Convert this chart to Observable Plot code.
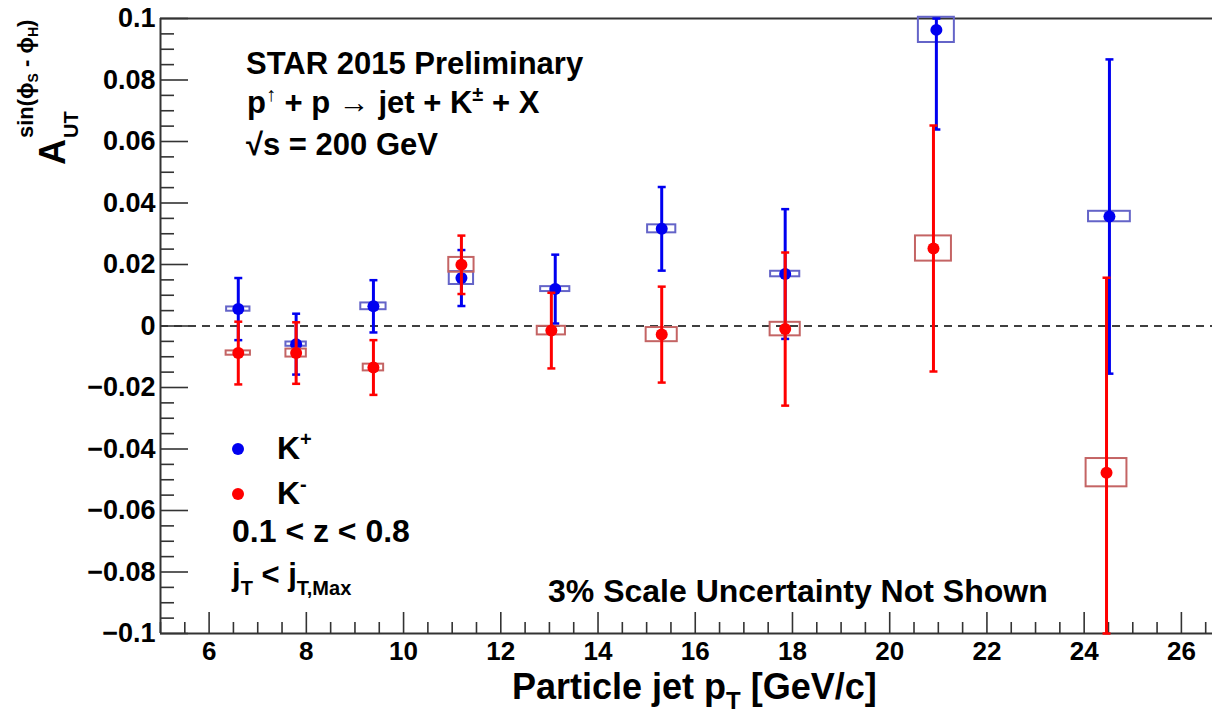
<!DOCTYPE html>
<html><head><meta charset="utf-8">
<script src="https://cdn.jsdelivr.net/npm/d3@7"></script>
<script src="https://cdn.jsdelivr.net/npm/@observablehq/plot@0.6"></script>
<style>body{margin:0;background:#fff} #chart svg{display:block}</style>
</head><body><div id="chart"></div><script>
// ---------- data ----------
const ptKp   = [6.60, 7.79, 9.38, 11.19, 13.12, 15.31, 17.85, 20.96, 24.52];
const aKp    = [0.0055, -0.0059, 0.0064, 0.0156, 0.0120, 0.0316, 0.0169, 0.0963, 0.0356];
const statKp = [0.0101, 0.0099, 0.0085, 0.0091, 0.0112, 0.0136, 0.0211, 0.0324, 0.0511];
const sysAKp = [0.0007, 0.0007, 0.0011, 0.0021, 0.0008, 0.0013, 0.0009, 0.0041, 0.0017];
const sysPtKp= [0.24, 0.21, 0.26, 0.25, 0.30, 0.29, 0.30, 0.37, 0.43];

const ptKm   = [6.60, 7.79, 9.38, 11.19, 13.04, 15.31, 17.85, 20.90, 24.46];
const aKm    = [-0.0088, -0.0088, -0.0135, 0.0199, -0.0015, -0.0028, -0.0010, 0.0252, -0.0477];
const statKm = [0.0102, 0.0100, 0.0089, 0.0095, 0.0123, 0.0156, 0.0249, 0.0400, 0.0634];
const sysAKm = [0.0007, 0.0013, 0.0011, 0.0024, 0.0014, 0.0023, 0.0022, 0.0041, 0.0046];
const sysPtKm= [0.25, 0.21, 0.21, 0.26, 0.29, 0.32, 0.31, 0.37, 0.42];

const xTicks = [6, 8, 10, 12, 14, 16, 18, 20, 22, 24, 26];
const yTicks = [-0.1, -0.08, -0.06, -0.04, -0.02, 0, 0.02, 0.04, 0.06, 0.08, 0.1];

// ---------- build ----------
const FONT = "'Liberation Sans', Arial, Helvetica, sans-serif";
const build = (pt, a, st, sa, sp) => pt.map((x, i) => ({x, a: a[i], e: st[i], sy: sa[i], sx: sp[i]}));
const kp = build(ptKp, aKp, statKp, sysAKp, sysPtKp);
const km = build(ptKm, aKm, statKm, sysAKm, sysPtKm);
const X0 = 5, X1 = 26.64, Y0 = -0.1, Y1 = 0.1;
const lo = d => Math.max(Y0, d.a - d.e), hi = d => Math.min(Y1, d.a + d.e);
const xMinor = d3.range(5, 26.7, 0.5).filter(v => v % 2 !== 0);
const yMinor = d3.range(-20, 21).map(v => v * 0.005).filter(v => Math.abs(Math.round(v * 1000)) % 20 !== 0);

const W = 1212, H = 716, ML = 160, MR = 0, MT = 18, MB = 83;
const PW = W - ML - MR, PH = H - MT - MB;
const cap = {draw(ctx) { ctx.moveTo(-4, 0); ctx.lineTo(4, 0); }};

const BLUE = "#0000f0", RED = "#ff0000", BLUEBOX = "#6464c8", REDBOX = "#c46464";
const AX = "#333";

function series(data, col, boxCol) {
  return [
    Plot.rect(data, {x1: d => d.x - d.sx, x2: d => d.x + d.sx, y1: d => d.a - d.sy, y2: d => d.a + d.sy,
      fill: "none", stroke: boxCol, strokeWidth: 2}),
    Plot.ruleX(data, {x: "x", y1: lo, y2: hi, stroke: col, strokeWidth: 3}),
    Plot.dot(data, {x: "x", y: lo, symbol: cap, stroke: col, strokeWidth: 2.5, fill: "none"}),
    Plot.dot(data, {x: "x", y: hi, symbol: cap, stroke: col, strokeWidth: 2.5, fill: "none"}),
    Plot.dot(data, {x: "x", y: "a", r: 6, fill: col, stroke: "none"})
  ];
}

const fmtY = d => d === 0 ? "0" : (d < 0 ? "\u2212" : "") + String(+Math.abs(d).toFixed(2));

const svg = Plot.plot({
  width: W, height: H, marginLeft: ML, marginRight: MR, marginTop: MT, marginBottom: MB,
  style: {fontFamily: FONT, background: "white", color: "#000"},
  x: {domain: [X0, X1]},
  y: {domain: [Y0, Y1]},
  marks: [
    Plot.ruleY([0], {stroke: "#000", strokeWidth: 1.6, strokeDasharray: "8,6"}),
    Plot.tickX(xMinor, {x: d => d, stroke: AX, strokeWidth: 1.6, insetTop: PH - 11}),
    Plot.tickX(xTicks, {x: d => d, stroke: AX, strokeWidth: 1.6, insetTop: PH - 21}),
    Plot.tickY(yMinor, {y: d => d, stroke: AX, strokeWidth: 1.6, insetRight: PW - 14}),
    Plot.tickY(yTicks, {y: d => d, stroke: AX, strokeWidth: 1.6, insetRight: PW - 28}),
    Plot.ruleY([Y1], {stroke: AX, strokeWidth: 2}),
    Plot.ruleY([Y0], {stroke: AX, strokeWidth: 2}),
    Plot.ruleX([X0], {stroke: AX, strokeWidth: 2}),
    Plot.axisX({ticks: xTicks, tickSize: 0, tickPadding: 8, fontSize: 26, fontWeight: "bold", label: null, tickFormat: d => String(d)}),
    Plot.axisY({ticks: yTicks, tickSize: 0, tickPadding: 5, fontSize: 27, fontWeight: "bold", label: null, tickFormat: fmtY}),
    ...series(kp, BLUE, BLUEBOX),
    ...series(km, RED, REDBOX)
  ]
});

// ---------- annotations ----------
const s = d3.select(svg);
const g = s.append("g").attr("font-family", FONT).attr("font-weight", "bold").attr("fill", "#000").attr("text-anchor", "start");
function rich(x, y, size, parts, parent = g) {
  const t = parent.append("text").attr("x", x).attr("y", y).attr("font-size", size).attr("text-anchor", "start");
  parts.forEach(p => {
    if (typeof p === "string") { t.append("tspan").text(p); }
    else { const ts = t.append("tspan").text(p.t); if (p.dy) ts.attr("dy", p.dy); if (p.size) ts.attr("font-size", p.size); if (p.w) ts.attr("font-weight", p.w); }
  });
  return t;
}
rich(246, 74, 31, ["STAR 2015 Preliminary"]);
rich(247, 113, 31, ["p", {t: "\u2191", dy: -12, size: 20, w: "normal"}, {t: " + p ", dy: 12}, {t: "\u2192", w: "normal"}, " jet + K", {t: "\u00b1", dy: -12, size: 20}, {t: " + X", dy: 12}]);
rich(246, 155, 31, ["\u221as = 200 GeV"]);
g.append("circle").attr("cx", 238).attr("cy", 449).attr("r", 6).attr("fill", BLUE);
g.append("circle").attr("cx", 238).attr("cy", 494).attr("r", 6).attr("fill", RED);
rich(277, 459, 32, ["K", {t: "+", dy: -13, size: 20}]);
rich(277, 504, 32, ["K", {t: "-", dy: -13, size: 20}]);
rich(232, 542, 32, ["0.1 < z < 0.8"]);
rich(232, 585, 31, ["j", {t: "T", dy: 10, size: 20}, {t: " < j", dy: -10}, {t: "T,Max", dy: 10, size: 20}]);
rich(548, 602, 32, ["3% Scale Uncertainty Not Shown"]);
rich(512, 699, 36, ["Particle jet p", {t: "T", dy: 10, size: 24}, {t: " [GeV/c]", dy: -10}]);

// y-axis title, rotated
const yt = g.append("g").attr("transform", "translate(65,165) rotate(-90)");
rich(0, 0, 36, ["A"], yt);
rich(27, 13, 20, ["UT"], yt);
rich(27, -32, 22, ["sin(\u03d5", {t: "S", dy: 5, size: 14}, {t: " - \u03d5", dy: -5}, {t: "H", dy: 5, size: 14}, {t: ")", dy: -5}], yt);

document.getElementById("chart").appendChild(svg);
</script></body></html>
